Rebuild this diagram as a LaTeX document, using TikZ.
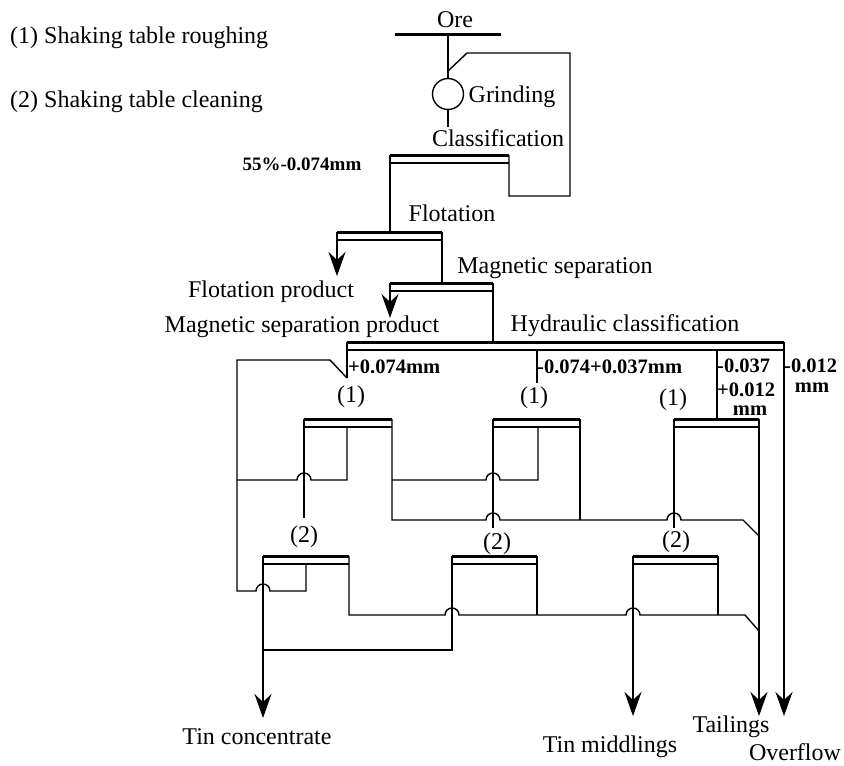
\documentclass[tikz,border=0pt]{standalone}
\usepackage{fontspec}
\setmainfont{Liberation Serif}
\usetikzlibrary{arrows.meta}
\tikzset{
  txt/.style={font=\fontsize{24}{26}\selectfont, inner sep=0pt},
  frac/.style={font=\fontsize{20.5}{22}\selectfont\bfseries, inner sep=0pt},
  pipe/.style={line width=1.4pt},
  deck/.style={line width=3pt},
  prod/.style={pipe, -{Stealth[length=24pt, width=17pt, inset=8pt]}},
}

\begin{document}
\begin{tikzpicture}[x=1pt, y=1pt]
  \useasboundingbox (0,0) rectangle (844,-766);

  %% legend
  \node[txt, anchor=west] (leg1) at (10,-38) {(1) Shaking table roughing};
  \node[txt, anchor=west] (leg2) at (10,-102) {(2) Shaking table cleaning};

  %% grinding -- classification loop
  \node[txt] (ore) at (455,-20) {Ore};
  \node[draw, circle, pipe, minimum size=31pt, inner sep=0pt] (mill) at (448,-94) {};
  \node[txt] (grind) at (512,-97) {Grinding};
  \node[txt] (cls) at (498,-138) {Classification};
  \node[frac, font=\fontsize{19}{20}\selectfont\bfseries] (c55) at (302,-164) {55\%-0.074mm};
  \draw[pipe] (448,-34) -- (mill.north);
  \draw[pipe] (mill.south) -- (448,-127);
  \draw[pipe] (509,-155) -- (509,-196) -- (570,-196) -- (570,-53) -- (467,-53) -- (448,-71);

  %% separation decks (thick top line + thin line below)
  \draw[deck] (395,-34) -- (501,-34);
  \foreach \xl/\xr/\y in {390/509/155, 337/442/232, 390/493/283, 347/784/342,
      304/392/419, 493/580/419, 674/759/419, 263/349/556, 452/537/556, 633/718/556} {
    \draw[deck] (\xl,-\y) -- (\xr,-\y);
    \draw[pipe] (\xl,-\y-8) -- (\xr,-\y-8);
  }

  %% flotation, magnetic separation
  \node[txt] (flot) at (452,-213) {Flotation};
  \node[txt] (flotp) at (271,-292) {Flotation product};
  \node[txt] (mag) at (555,-268) {Magnetic separation};
  \node[txt] (magp) at (302,-327) {Magnetic separation product};
  \draw[pipe] (390,-155) -- (390,-232);
  \draw[prod] (337,-232) -- (337,-276);
  \draw[pipe] (442,-232) -- (442,-283);
  \draw[prod] (390,-283) -- (390,-318);
  \draw[pipe] (493,-283) -- (493,-342);

  %% hydraulic classification
  \node[txt] (hyd) at (625,-326) {Hydraulic classification};
  \node[frac, anchor=west] (s1) at (348,-367) {+0.074mm};
  \node[frac, anchor=west] (s2) at (537,-367) {-0.074+0.037mm};
  \node[frac, anchor=west] (s3) at (717,-366) {-0.037};
  \node[frac, anchor=west] (s3b) at (717,-390) {+0.012};
  \node[frac] (s3c) at (750,-411) {mm};
  \node[frac, anchor=west] (s4) at (784,-366) {-0.012};
  \node[frac] (s4b) at (812,-388) {mm};
  \draw[pipe] (347,-342) -- (347,-378);
  \draw[pipe] (537,-350) -- (537,-383);
  \draw[pipe] (717,-350) -- (717,-419);
  \draw[prod] (784,-342) -- (784,-716);

  %% table stages
  \foreach \x/\y/\n [count=\i] in {351/397/1, 534/398/1, 673/400/1,
      304/537/2, 497/544/2, 676/542/2} {
    \node[txt] (st\i) at (\x,-\y) {(\n)};
  }

  %% cleaner middlings back to roughing feed
  \draw[pipe] (306,-564) -- (306,-591) -- (270,-591)
    arc[start angle=0, end angle=180, radius=7pt] -- (237,-591)
    -- (237,-360) -- (330,-360) -- (347,-378);

  %% roughing
  \draw[pipe] (304,-419) -- (304,-518);
  \draw[pipe] (493,-419) -- (493,-528);
  \draw[pipe] (674,-419) -- (674,-528);
  \draw[pipe] (347,-427) -- (347,-480) -- (311,-480)
    arc[start angle=0, end angle=180, radius=7pt] -- (237,-480);
  \draw[pipe] (538,-427) -- (538,-480) -- (500,-480)
    arc[start angle=0, end angle=180, radius=7pt] -- (392,-480);
  \draw[pipe] (392,-419) -- (392,-520) -- (486,-520)
    arc[start angle=180, end angle=0, radius=7pt] -- (667,-520)
    arc[start angle=180, end angle=0, radius=7pt] -- (743,-520) -- (759,-536);
  \draw[pipe] (580,-419) -- (580,-520);
  \draw[prod] (759,-419) -- (759,-716);

  %% cleaning
  \draw[prod] (263,-556) -- (263,-718);
  \draw[pipe] (452,-556) -- (452,-650) -- (263,-650);
  \draw[pipe] (349,-556) -- (349,-615) -- (445,-615)
    arc[start angle=180, end angle=0, radius=7pt] -- (626,-615)
    arc[start angle=180, end angle=0, radius=7pt] -- (745,-615) -- (759,-631);
  \draw[pipe] (537,-556) -- (537,-615);
  \draw[pipe] (718,-556) -- (718,-615);
  \draw[prod] (633,-556) -- (633,-716);

  %% products
  \node[txt] (tinc) at (257,-737) {Tin concentrate};
  \node[txt] (tinm) at (610,-747) {Tin middlings};
  \node[txt] (tail) at (731,-727) {Tailings};
  \node[txt] (over) at (795,-752) {Overflow};
\end{tikzpicture}
\end{document}
